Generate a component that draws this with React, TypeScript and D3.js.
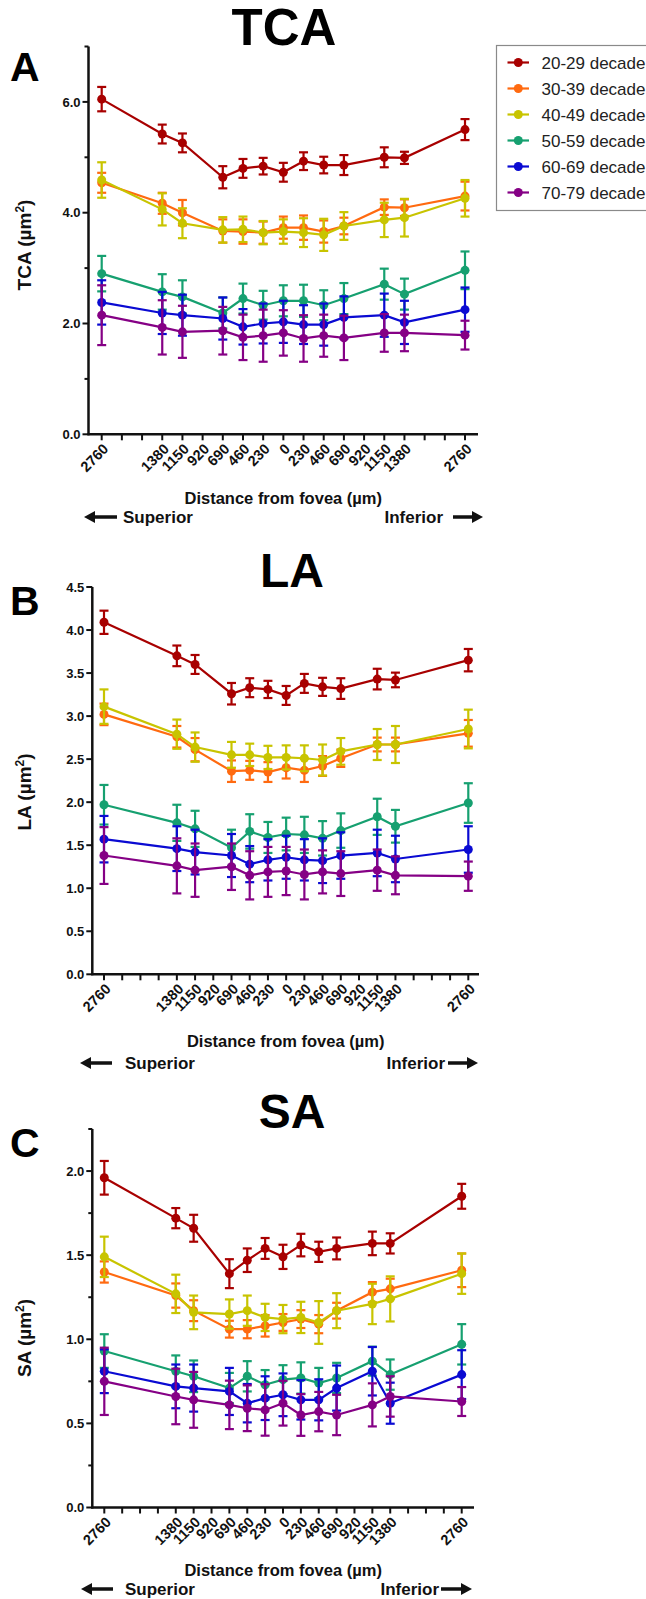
import React from "react";
import * as d3 from "d3";

// age groups and their colours
const groups = ["20-29 decade", "30-39 decade", "40-49 decade", "50-59 decade", "60-69 decade", "70-79 decade"];
const palette = ["#a80000", "#ff6a10", "#c8c400", "#16a070", "#0a0ad2", "#850085"];

// x slots (S = superior side, I = inferior side, lower case = empty slot)
const tcaSlots = ["S2760", "s1", "s2", "S1380", "S1150", "S920", "S690", "S460", "S230", "0",
  "I230", "I460", "I690", "I920", "I1150", "I1380", "i1", "i2", "I2760"];
const wideSlots = ["S2760", "s1", "s2", "s3", "S1380", "S1150", "S920", "S690", "S460", "S230", "0",
  "I230", "I460", "I690", "I920", "I1150", "I1380", "i1", "i2", "i3", "I2760"];
// locations that were measured
const measured = ["S2760", "S1380", "S1150", "S690", "S460", "S230", "0",
  "I230", "I460", "I690", "I1150", "I1380", "I2760"];

const tcaMeans = [
  [6.05, 5.42, 5.26, 4.64, 4.80, 4.84, 4.73, 4.93, 4.86, 4.86, 5.00, 4.99, 5.50],
  [4.54, 4.17, 4.00, 3.67, 3.66, 3.64, 3.73, 3.73, 3.66, 3.76, 4.10, 4.09, 4.30],
  [4.59, 4.06, 3.81, 3.69, 3.70, 3.64, 3.66, 3.64, 3.60, 3.76, 3.87, 3.91, 4.26],
  [2.90, 2.57, 2.48, 2.19, 2.45, 2.33, 2.41, 2.41, 2.33, 2.45, 2.71, 2.53, 2.96],
  [2.38, 2.19, 2.15, 2.09, 1.94, 2.00, 2.03, 1.98, 1.98, 2.11, 2.15, 2.02, 2.25],
  [2.15, 1.93, 1.85, 1.87, 1.75, 1.78, 1.83, 1.73, 1.78, 1.74, 1.83, 1.83, 1.79],
];
const tcaErrors = [
  [0.22, 0.17, 0.17, 0.20, 0.17, 0.15, 0.17, 0.16, 0.15, 0.18, 0.18, 0.11, 0.19],
  [0.18, 0.19, 0.23, 0.21, 0.22, 0.20, 0.20, 0.22, 0.20, 0.15, 0.14, 0.15, 0.26],
  [0.32, 0.29, 0.27, 0.23, 0.23, 0.21, 0.22, 0.26, 0.29, 0.25, 0.31, 0.34, 0.33],
  [0.32, 0.32, 0.30, 0.28, 0.27, 0.26, 0.28, 0.29, 0.27, 0.28, 0.28, 0.28, 0.34],
  [0.40, 0.38, 0.37, 0.38, 0.32, 0.36, 0.38, 0.35, 0.38, 0.38, 0.39, 0.39, 0.40],
  [0.54, 0.49, 0.47, 0.43, 0.41, 0.47, 0.41, 0.42, 0.38, 0.40, 0.34, 0.33, 0.26],
];

const laMeans = [
  [4.09, 3.70, 3.60, 3.26, 3.33, 3.31, 3.24, 3.38, 3.34, 3.32, 3.43, 3.42, 3.65],
  [3.02, 2.76, 2.61, 2.36, 2.37, 2.35, 2.40, 2.37, 2.42, 2.51, 2.67, 2.67, 2.80],
  [3.11, 2.79, 2.64, 2.55, 2.55, 2.52, 2.52, 2.51, 2.49, 2.59, 2.67, 2.67, 2.85],
  [1.97, 1.76, 1.69, 1.47, 1.66, 1.59, 1.63, 1.62, 1.58, 1.67, 1.83, 1.72, 1.99],
  [1.57, 1.46, 1.42, 1.38, 1.28, 1.33, 1.36, 1.33, 1.32, 1.38, 1.41, 1.34, 1.45],
  [1.38, 1.26, 1.21, 1.25, 1.15, 1.19, 1.20, 1.16, 1.19, 1.17, 1.21, 1.15, 1.14],
];
const laErrors = [
  [0.135, 0.12, 0.11, 0.125, 0.11, 0.10, 0.11, 0.11, 0.105, 0.12, 0.12, 0.085, 0.13],
  [0.125, 0.125, 0.135, 0.125, 0.11, 0.115, 0.125, 0.135, 0.115, 0.10, 0.08, 0.08, 0.155],
  [0.20, 0.17, 0.17, 0.15, 0.13, 0.135, 0.14, 0.15, 0.18, 0.155, 0.18, 0.215, 0.225],
  [0.23, 0.21, 0.21, 0.21, 0.20, 0.18, 0.19, 0.21, 0.20, 0.20, 0.21, 0.19, 0.23],
  [0.27, 0.26, 0.26, 0.25, 0.21, 0.24, 0.25, 0.24, 0.26, 0.27, 0.27, 0.27, 0.27],
  [0.33, 0.32, 0.31, 0.27, 0.28, 0.29, 0.28, 0.29, 0.25, 0.26, 0.24, 0.22, 0.17],
];

const saMeans = [
  [1.96, 1.72, 1.66, 1.39, 1.47, 1.54, 1.49, 1.56, 1.52, 1.54, 1.57, 1.57, 1.85],
  [1.40, 1.26, 1.17, 1.06, 1.06, 1.08, 1.10, 1.12, 1.09, 1.17, 1.28, 1.30, 1.41],
  [1.49, 1.27, 1.16, 1.15, 1.17, 1.13, 1.12, 1.13, 1.10, 1.17, 1.21, 1.24, 1.39],
  [0.93, 0.81, 0.78, 0.71, 0.78, 0.73, 0.76, 0.77, 0.74, 0.77, 0.87, 0.79, 0.97],
  [0.81, 0.72, 0.71, 0.69, 0.62, 0.65, 0.67, 0.64, 0.64, 0.71, 0.81, 0.62, 0.79],
  [0.75, 0.66, 0.64, 0.61, 0.59, 0.58, 0.62, 0.55, 0.57, 0.55, 0.61, 0.66, 0.63],
];
const saErrors = [
  [0.10, 0.06, 0.08, 0.086, 0.07, 0.062, 0.072, 0.067, 0.06, 0.065, 0.07, 0.06, 0.074],
  [0.063, 0.072, 0.062, 0.05, 0.054, 0.064, 0.05, 0.053, 0.054, 0.047, 0.06, 0.06, 0.10],
  [0.12, 0.114, 0.10, 0.087, 0.09, 0.081, 0.084, 0.093, 0.127, 0.104, 0.12, 0.134, 0.12],
  [0.10, 0.094, 0.094, 0.09, 0.09, 0.087, 0.086, 0.093, 0.09, 0.09, 0.086, 0.09, 0.12],
  [0.13, 0.13, 0.14, 0.14, 0.114, 0.13, 0.127, 0.117, 0.122, 0.134, 0.144, 0.122, 0.145],
  [0.20, 0.165, 0.166, 0.144, 0.136, 0.153, 0.133, 0.124, 0.117, 0.12, 0.128, 0.12, 0.086],
];

const tcaMajor = [0, 2, 4, 6];
const tcaMinor = [1, 3, 5, 7];
const laMajor = [0, 0.5, 1, 1.5, 2, 2.5, 3, 3.5, 4, 4.5];
const saMajor = [0, 0.5, 1, 1.5, 2];
const saMinor = [0.25, 0.75, 1.25, 1.75, 2.25];

const FONT = "'Liberation Sans', Arial, sans-serif";
const INK = "#111";

const panels = [
  {
    title: "TCA", letter: "A", slots: tcaSlots, means: tcaMeans, errs: tcaErrors,
    yMax: 7, major: tcaMajor, minor: tcaMinor,
    ax: 88.5, yTop: 46.5, yBot: 434.3, x0: 101.7, x1: 465, xEnd: 478,
    titleX: 284, titleSize: 51, titleY: 45, letterY: 81, yLabelY: 245, xLabelY: 504, dirY: 517,
    supA: [84, 117], supT: 123, infT: 443, infA: [453, 483],
  },
  {
    title: "LA", letter: "B", slots: wideSlots, means: laMeans, errs: laErrors,
    yMax: 4.5, major: laMajor, minor: [],
    ax: 92.3, yTop: 587, yBot: 974.3, x0: 104, x1: 468.3, xEnd: 479,
    titleX: 292, titleSize: 48, titleY: 587, letterY: 615, yLabelY: 792, xLabelY: 1047, dirY: 1063,
    supA: [80, 112], supT: 125, infT: 445, infA: [448, 478],
  },
  {
    title: "SA", letter: "C", slots: wideSlots, means: saMeans, errs: saErrors,
    yMax: 2.25, major: saMajor, minor: saMinor,
    ax: 92.3, yTop: 1129, yBot: 1507.5, x0: 104.3, x1: 461.7, xEnd: 474,
    titleX: 292, titleSize: 48, titleY: 1128, letterY: 1157, yLabelY: 1338, xLabelY: 1576, dirY: 1589,
    supA: [81, 113], supT: 125, infT: 439, infA: [441, 472],
  },
];

const Arrow = ({ from, to, y }) => {
  const dir = to > from ? 1 : -1;
  const head = 11;
  return (
    <g>
      <line x1={from} x2={to - dir * head} y1={y} y2={y} stroke={INK} strokeWidth={3.5} />
      <path d={`M${to},${y} L${to - dir * head},${y - 6} L${to - dir * head},${y + 6} Z`} fill={INK} />
    </g>
  );
};

const Panel = ({ p }) => {
  const x = d3.scalePoint().domain(p.slots).range([p.x0, p.x1]);
  const y = d3.scaleLinear().domain([0, p.yMax]).range([p.yBot, p.yTop]);
  const line = d3.line().x((d) => x(d[0])).y((d) => y(d[1]));
  const fmt = d3.format(".1f");
  const midX = (p.ax + p.xEnd) / 2;

  return (
    <g>
      <text x={p.titleX} y={p.titleY} textAnchor="middle" fontFamily={FONT} fontWeight="bold" fontSize={p.titleSize} fill="#000">
        {p.title}
      </text>
      <text x={10} y={p.letterY} fontFamily={FONT} fontWeight="bold" fontSize={41} fill="#000">
        {p.letter}
      </text>

      {/* y axis */}
      <line x1={p.ax} x2={p.ax} y1={p.yTop} y2={p.yBot + 1} stroke={INK} strokeWidth={2.5} />
      {p.major.map((t) => (
        <g key={"M" + t}>
          <line x1={p.ax - 6} x2={p.ax} y1={y(t)} y2={y(t)} stroke={INK} strokeWidth={2} />
          <text x={p.ax - 8} y={y(t)} dy="0.36em" textAnchor="end" fontFamily={FONT} fontWeight="bold" fontSize={13} fill={INK}>
            {fmt(t)}
          </text>
        </g>
      ))}
      {p.minor.map((t) => (
        <line key={"m" + t} x1={p.ax - 4} x2={p.ax} y1={y(t)} y2={y(t)} stroke={INK} strokeWidth={2} />
      ))}
      <text transform={`translate(31,${p.yLabelY}) rotate(-90)`} textAnchor="middle" fontFamily={FONT} fontWeight="bold" fontSize={19} fill={INK}>
        {p.title} (µm<tspan dy={-7} fontSize={12}>2</tspan><tspan dy={7}>)</tspan>
      </text>

      {/* x axis */}
      <line x1={p.ax - 1} x2={p.xEnd} y1={p.yBot} y2={p.yBot} stroke={INK} strokeWidth={2.5} />
      {p.slots.map((s) => (
        <g key={s}>
          <line x1={x(s)} x2={x(s)} y1={p.yBot} y2={p.yBot + 6} stroke={INK} strokeWidth={2} />
          {s === s.toUpperCase() && (
            <text transform={`translate(${x(s) + 4},${p.yBot + 12}) rotate(-45)`} textAnchor="end" dy="0.35em"
              fontFamily={FONT} fontWeight="bold" fontSize={14.5} fill={INK}>
              {s.replace(/^[SI]/, "")}
            </text>
          )}
        </g>
      ))}
      <text x={midX} y={p.xLabelY} textAnchor="middle" fontFamily={FONT} fontWeight="bold" fontSize={16.5} fill={INK}>
        Distance from fovea (µm)
      </text>
      <Arrow from={p.supA[1]} to={p.supA[0]} y={p.dirY} />
      <text x={p.supT} y={p.dirY} dy="0.36em" fontFamily={FONT} fontWeight="bold" fontSize={17} fill={INK}>Superior</text>
      <text x={p.infT} y={p.dirY} dy="0.36em" textAnchor="end" fontFamily={FONT} fontWeight="bold" fontSize={17} fill={INK}>Inferior</text>
      <Arrow from={p.infA[0]} to={p.infA[1]} y={p.dirY} />

      {/* series */}
      {p.means.map((vals, gi) => {
        const pts = measured.map((k, i) => [k, vals[i], p.errs[gi][i]]);
        const c = palette[gi];
        return (
          <g key={gi}>
            <path d={line(pts)} fill="none" stroke={c} strokeWidth={2.2} />
            {pts.map(([k, v, e]) => (
              <g key={k} stroke={c} strokeWidth={2.2}>
                <line x1={x(k)} x2={x(k)} y1={y(v - e)} y2={y(v + e)} />
                <line x1={x(k) - 4.5} x2={x(k) + 4.5} y1={y(v + e)} y2={y(v + e)} />
                <line x1={x(k) - 4.5} x2={x(k) + 4.5} y1={y(v - e)} y2={y(v - e)} />
                <circle cx={x(k)} cy={y(v)} r={4.5} fill={c} stroke="none" />
              </g>
            ))}
          </g>
        );
      })}
    </g>
  );
};

const Legend = () => (
  <g>
    <rect x={496.5} y={45.5} width={200} height={165} fill="#fff" stroke="#8a8a8a" strokeWidth={1.2} />
    {groups.map((g, i) => {
      const cy = 62.5 + i * 26;
      return (
        <g key={g}>
          <line x1={507.5} x2={529} y1={cy} y2={cy} stroke={palette[i]} strokeWidth={2.2} />
          <circle cx={518.3} cy={cy} r={4.5} fill={palette[i]} />
          <text x={541.5} y={cy} dy="0.36em" fontFamily={FONT} fontSize={17} fill="#222">{g}</text>
        </g>
      );
    })}
  </g>
);

export default function App() {
  return (
    <svg width={646} height={1599} style={{ position: "absolute", left: 0, top: 0, background: "#fff" }}>
      {panels.map((p) => (
        <Panel key={p.title} p={p} />
      ))}
      <Legend />
    </svg>
  );
}
